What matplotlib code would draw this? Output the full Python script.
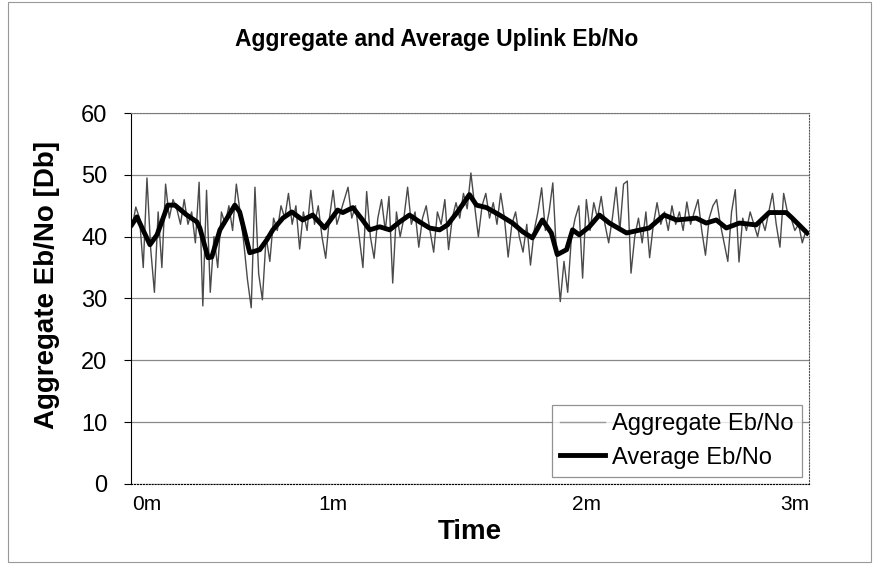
import numpy as np
import matplotlib.pyplot as plt
from matplotlib.patches import Rectangle
import matplotlib.transforms as mtransforms

plt.rcParams['font.family'] = ['Liberation Sans', 'DejaVu Sans']

# category axis: one sample per row (roughly one per second)
samples = np.arange(182)
aggregate = [
    41.5, 44.8, 43.0, 35.0, 49.5,
    38.0, 31.0, 44.0, 35.0, 48.5, 43.0, 46.0, 44.5, 42.0, 46.0,
    42.0, 44.0, 39.0, 48.8, 28.8, 47.5, 31.0, 40.0, 35.0, 44.0,
    42.0, 45.0, 41.0, 48.5, 44.0, 39.0, 33.0, 28.5, 48.0, 34.0,
    29.8, 40.0, 36.0, 43.0, 41.0, 45.0, 43.0, 47.0, 42.0, 45.0,
    38.0, 44.0, 41.0, 47.5, 42.0, 45.0, 40.0, 36.5, 43.0, 47.5,
    42.0, 44.0, 46.0, 48.0, 43.0, 45.0, 40.0, 35.0, 47.3, 40.0,
    36.5, 43.0, 46.0, 41.0, 46.5, 32.5, 44.0, 40.0, 43.0, 48.0,
    42.0, 44.0, 38.3, 43.0, 45.0, 41.0, 37.5, 44.0, 42.0, 46.0,
    37.9, 43.0, 45.5, 43.0, 47.0, 44.5, 50.3, 45.0, 40.0, 45.0,
    47.0, 43.0, 45.5, 42.0, 47.0, 43.0, 36.7, 42.0, 44.0, 40.0,
    37.5, 42.0, 35.4, 41.0, 44.0, 47.9, 41.0, 44.0, 48.7, 37.0,
    29.5, 36.0, 31.0, 40.0, 43.0, 45.0, 33.3, 46.0, 41.0, 45.5,
    43.0, 46.5, 42.0, 39.0, 43.0, 48.0, 41.0, 48.5, 49.0, 34.1,
    40.0, 43.0, 39.0, 44.0, 36.6, 42.0, 45.5, 42.0, 44.0, 41.0,
    45.0, 42.0, 44.0, 41.0, 45.6, 42.0, 44.0, 46.0, 41.0, 37.0,
    43.0, 45.0, 46.0, 42.0, 39.0, 36.0, 44.0, 47.6, 35.9, 43.0,
    41.0, 44.0, 42.0, 40.0, 43.0, 41.0, 44.0, 47.0, 42.0, 38.3,
    47.0, 44.0, 43.0, 41.0, 42.0, 39.0, 41.0,
]

avg_x = [0, 1.3, 4.8, 6.7, 9.6, 11.5, 14.7, 17.4, 18.2, 20.4, 21.4, 23.6,
         27.6, 28.9, 31.6, 34.3, 36.2, 37.8, 40.5, 42.9, 45.8, 48.5, 51.7,
         55.2, 56.6, 59.3, 61.9, 63.8, 66.5, 69.2, 71.9, 74.5, 77.2, 79.9,
         82.6, 84.7, 87.4, 90.6, 92.5, 95.2, 98.7, 102.2, 104.9, 107.5, 110.2,
         112.6, 114.2, 116.7, 118.3, 120.1, 122.8, 125.5, 128.2, 132.8,
         138.9, 142.9, 146.2, 151.5, 154.2, 156.9, 159.6, 163.1, 167.6,
         171.1, 175.7, 177.3, 181.3]
average = [42.0, 43.2, 38.7, 40.3, 45.1, 45.1, 43.5, 42.4, 41.4, 36.6, 36.7, 41.1,
           45.1, 44.0, 37.4, 37.9, 39.5, 41.1, 43.0, 44.0, 42.7, 43.5, 41.4,
           44.3, 43.9, 44.7, 42.7, 41.1, 41.6, 41.1, 42.4, 43.5, 42.4, 41.4,
           41.1, 41.9, 44.0, 46.8, 45.1, 44.7, 43.5, 42.2, 40.8, 39.8, 42.7,
           40.6, 37.1, 37.9, 41.1, 40.3, 41.6, 43.5, 42.2, 40.6,
           41.4, 43.5, 42.7, 43.0, 42.2, 42.7, 41.4, 42.2, 41.9,
           43.9, 43.9, 43.0, 40.6]

# rows where the time labels sit
label_rows = [4, 54, 122, 178]
time_labels = ["0m", "1m", "2m", "3m"]

fig = plt.figure(figsize=(8.76, 5.69), dpi=100)
ax = fig.add_axes([0.1495, 0.1494, 0.774, 0.652])

ax.plot(samples, aggregate, color="#4a4a4a", linewidth=1.0, label="Aggregate Eb/No")
ax.plot(avg_x, average, color="black", linewidth=3.5, label="Average Eb/No")

ax.set_xlim(-0.3, 181.8)
ax.set_ylim(0, 60)
ax.set_yticks(range(0, 61, 10))
ax.tick_params(axis="y", labelsize=17, length=5, pad=12, direction="out", color="black")
ax.set_xticks([])
ax.grid(axis="y", color="#888888", linewidth=0.9)
ax.set_axisbelow(True)

ax.spines["left"].set_color("black")
ax.spines["bottom"].set_linestyle(":")
ax.spines["top"].set_linestyle(":")
ax.spines["right"].set_linestyle(":")
ax.spines["top"].set_color("#777777")
ax.spines["right"].set_color("#555555")

trans = mtransforms.blended_transform_factory(ax.transData, ax.transAxes)
for r, lab in zip(label_rows, time_labels):
    ax.text(r, -0.03, lab, transform=trans, ha="center", va="top",
            fontsize=15, clip_on=False)

ax.text(0.5, -0.13, "Time", transform=ax.transAxes, ha="center", va="center",
        fontsize=20, fontweight="bold")
ax.text(-0.124, 0.536, "Aggregate Eb/No [Db]", transform=ax.transAxes, rotation=90,
        ha="center", va="center", fontsize=20, fontweight="bold")
fig.text(0.499, 0.93, "Aggregate and Average Uplink Eb/No", ha="center",
         va="center", fontsize=16.5, fontweight="bold")

leg = ax.legend(loc="lower right", bbox_to_anchor=(0.99, 0.019), fontsize=17,
                frameon=True, fancybox=False, borderpad=0.35, handlelength=1.9,
                handletextpad=0.3, labelspacing=0.5, borderaxespad=0)
leg.get_frame().set_edgecolor("#777777")
leg.get_frame().set_linewidth(0.9)
leg.get_lines()[0].set_color("#999999")

fig.patches.append(Rectangle((0.009, 0.012), 0.985, 0.984, transform=fig.transFigure,
                             fill=False, edgecolor="#999999", linewidth=0.8))

fig.savefig("out.png", dpi=100)
